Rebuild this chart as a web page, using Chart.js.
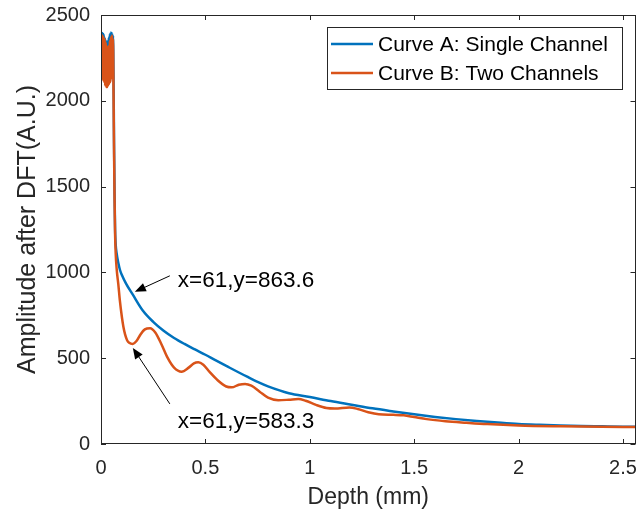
<!DOCTYPE html>
<html>
<head>
<meta charset="utf-8">
<script src="https://cdn.jsdelivr.net/npm/chart.js@4/dist/chart.umd.min.js"></script>
<style>
  html, body { margin: 0; padding: 0; background: #ffffff; }
  #wrap { width: 639px; height: 513px; }
</style>
</head>
<body>
<div id="wrap"><canvas id="c" width="639" height="513"></canvas></div>
<script>
// ---- data ----
const seriesNames = ["Curve A: Single Channel", "Curve B: Two Channels"];

const depthA = [0, 0.0025, 0.005, 0.0075, 0.01, 0.0125, 0.015, 0.0175, 0.02, 0.0225, 0.025, 0.0275, 0.03, 0.0325, 0.035, 0.0375, 0.04, 0.0425, 0.045, 0.0475, 0.05, 0.0525, 0.055, 0.0575, 0.06,
  0.0625, 0.065, 0.0675, 0.07, 0.075, 0.083, 0.091, 0.1, 0.12, 0.1525, 0.2, 0.25, 0.3, 0.35, 0.4, 0.45, 0.5, 0.55, 0.6, 0.7, 0.75, 0.8, 0.9, 1.0, 1.1, 1.2, 1.3, 1.4, 1.5, 1.6, 1.7, 1.8, 1.9, 2.0, 2.1, 2.2, 2.3, 2.4, 2.5, 2.56];
const ampA = [2170, 2390, 2200, 2395, 2220, 2390, 2210, 2370, 2200, 2355, 2190, 2340, 2180, 2350, 2200, 2370, 2220, 2390, 2240, 2400, 2250, 2395, 2260, 2380, 2150,
  1750, 1450, 1250, 1170, 1110, 1055, 1014, 985, 935, 870, 778, 712, 660, 618, 583, 551, 520, 487, 455, 392, 362, 336, 296, 274, 250, 229, 208, 190, 173, 158, 145, 134, 125, 117, 112, 108, 105, 103, 101, 100];

const depthB = [0, 0.0025, 0.005, 0.0075, 0.01, 0.0125, 0.015, 0.0175, 0.02, 0.0225, 0.025, 0.0275, 0.03, 0.0325, 0.035, 0.0375, 0.04, 0.0425, 0.045, 0.0475, 0.05, 0.0525, 0.055, 0.0575, 0.06,
  0.0625, 0.065, 0.0675, 0.07, 0.075, 0.083, 0.09, 0.1, 0.107, 0.115, 0.125, 0.135, 0.1525, 0.17, 0.19, 0.21, 0.235, 0.26, 0.29, 0.32, 0.35, 0.386, 0.42, 0.445, 0.466, 0.49, 0.52, 0.56, 0.6, 0.626, 0.66, 0.69, 0.72, 0.76, 0.8, 0.849, 0.9, 0.945, 0.98, 1.03, 1.08, 1.12, 1.19, 1.23, 1.28, 1.33, 1.4, 1.45, 1.5, 1.56, 1.65, 1.75, 1.85, 2.0, 2.2, 2.4, 2.56];
const ampB = [2150, 2370, 2140, 2380, 2120, 2370, 2110, 2360, 2090, 2340, 2080, 2320, 2080, 2300, 2090, 2320, 2100, 2350, 2110, 2370, 2130, 2380, 2150, 2360, 2050,
  1700, 1420, 1220, 1120, 1020, 930, 840, 740, 685, 640, 605, 590, 583.3, 600, 640, 668, 675, 650, 580, 500, 445, 421, 445, 470, 476, 462, 420, 370, 335, 330, 345, 350, 340, 305, 270, 255, 258, 262, 252, 228, 210, 207, 213, 204, 185, 173, 170, 167, 157, 145, 133, 124, 116, 108, 103, 100, 99];

const xTicks = [0, 0.5, 1, 1.5, 2, 2.5];
const yTicks = [0, 500, 1000, 1500, 2000, 2500];
const xRange = [0, 2.56];
const yRange = [0, 2500];

const dataTips = [
  { x: 0.1525, y: 863.6, label: "x=61,y=863.6" },
  { x: 0.1525, y: 583.3, label: "x=61,y=583.3" }
];

// ---- styles ----
const colA = "#0072BD";
const colB = "#D95319";
const axisCol = "#262626";
const FONT = "'Liberation Sans', Arial, Helvetica, sans-serif";

function toXY(xs, ys) { return xs.map((x, i) => ({ x: x, y: ys[i] })); }

function arrow(ctx, tx, ty, fx, fy) {
  const ang = Math.atan2(ty - fy, tx - fx);
  const hl = 11, hw = 4.5;
  ctx.beginPath();
  ctx.moveTo(fx, fy);
  ctx.lineTo(tx - Math.cos(ang) * hl * 0.8, ty - Math.sin(ang) * hl * 0.8);
  ctx.stroke();
  ctx.beginPath();
  ctx.moveTo(tx, ty);
  ctx.lineTo(tx - Math.cos(ang) * hl + Math.sin(ang) * hw, ty - Math.sin(ang) * hl - Math.cos(ang) * hw);
  ctx.lineTo(tx - Math.cos(ang) * hl - Math.sin(ang) * hw, ty - Math.sin(ang) * hl + Math.cos(ang) * hw);
  ctx.closePath();
  ctx.fill();
}

const decor = {
  id: "decor",
  afterDraw(chart) {
    const ctx = chart.ctx;
    const a = chart.chartArea;
    const xs = chart.scales.x, ys = chart.scales.y;
    ctx.save();
    // box
    ctx.strokeStyle = axisCol;
    ctx.lineWidth = 1;
    ctx.strokeRect(Math.round(a.left) + 0.5, Math.round(a.top) + 0.5, Math.round(a.right - a.left) - 1, Math.round(a.bottom - a.top) - 1);
    // inward ticks
    const tl = 5;
    ctx.beginPath();
    xTicks.forEach(v => {
      const px = Math.round(xs.getPixelForValue(v)) + 0.5;
      ctx.moveTo(px, a.bottom); ctx.lineTo(px, a.bottom - tl);
      ctx.moveTo(px, a.top); ctx.lineTo(px, a.top + tl);
    });
    yTicks.forEach(v => {
      const py = Math.round(ys.getPixelForValue(v)) + 0.5;
      ctx.moveTo(a.left, py); ctx.lineTo(a.left + tl, py);
      ctx.moveTo(a.right, py); ctx.lineTo(a.right - tl, py);
    });
    ctx.stroke();

    // legend
    const lx = 327.5, ly = 27.5, lw = 295, lh = 62;
    ctx.fillStyle = "#ffffff";
    ctx.fillRect(lx, ly, lw, lh);
    ctx.strokeStyle = "#262626";
    ctx.lineWidth = 1;
    ctx.strokeRect(lx, ly, lw, lh);
    const rows = [{ c: colA, t: seriesNames[0], y: 44 }, { c: colB, t: seriesNames[1], y: 73 }];
    ctx.font = "21px " + FONT;
    ctx.textBaseline = "middle";
    ctx.textAlign = "left";
    rows.forEach(r => {
      ctx.strokeStyle = r.c;
      ctx.lineWidth = 2.5;
      ctx.beginPath();
      ctx.moveTo(331, r.y); ctx.lineTo(373, r.y);
      ctx.stroke();
      ctx.fillStyle = "#000000";
      ctx.fillText(r.t, 378, r.y + 1);
    });

    // data tip annotations
    ctx.strokeStyle = "#000000";
    ctx.fillStyle = "#000000";
    ctx.lineWidth = 1;
    const p1x = xs.getPixelForValue(dataTips[0].x), p1y = ys.getPixelForValue(dataTips[0].y);
    const t1x = p1x + 2, t1y = p1y - 4;
    arrow(ctx, t1x, t1y, t1x + 35, t1y - 16);
    const p2x = xs.getPixelForValue(dataTips[1].x), p2y = ys.getPixelForValue(dataTips[1].y);
    const t2x = p2x, t2y = p2y + 4;
    arrow(ctx, t2x, t2y, t2x + 37, t2y + 56);
    ctx.font = "22.5px " + FONT;
    ctx.textBaseline = "middle";
    ctx.fillText(dataTips[0].label, t1x + 43, t1y - 11);
    ctx.fillText(dataTips[1].label, t2x + 45, t2y + 74);
    ctx.restore();
  }
};

new Chart(document.getElementById("c"), {
  type: "line",
  data: {
    datasets: [
      { label: seriesNames[0], data: toXY(depthA, ampA), borderColor: colA, borderWidth: 2.5, pointRadius: 0, fill: false, cubicInterpolationMode: "monotone", order: 1 },
      { label: seriesNames[1], data: toXY(depthB, ampB), borderColor: colB, borderWidth: 2.5, pointRadius: 0, fill: false, cubicInterpolationMode: "monotone", order: 0 }
    ]
  },
  options: {
    responsive: false,
    animation: false,
    layout: { padding: { left: 0, right: 3.5, top: 15, bottom: 0 } },
    plugins: { legend: { display: false }, tooltip: { enabled: false } },
    scales: {
      x: {
        type: "linear",
        min: xRange[0], max: xRange[1],
        afterBuildTicks: s => { s.ticks = xTicks.map(v => ({ value: v })); },
        afterFit: s => { s.height = 69; s.paddingLeft = 0; s.paddingRight = 0; },
        grid: { display: false, drawTicks: false },
        border: { display: false },
        ticks: { padding: 12, color: axisCol, font: { family: FONT, size: 20 }, callback: v => String(v), maxRotation: 0, autoSkip: false },
        title: { display: true, text: "Depth (mm)", color: axisCol, font: { family: FONT, size: 23 }, padding: { top: 0, bottom: 2 } }
      },
      y: {
        type: "linear",
        min: yRange[0], max: yRange[1],
        afterBuildTicks: s => { s.ticks = yTicks.map(v => ({ value: v })); },
        afterFit: s => { s.width = 101; s.paddingTop = 0; s.paddingBottom = 0; },
        grid: { display: false, drawTicks: false },
        border: { display: false },
        ticks: { padding: 11, color: axisCol, font: { family: FONT, size: 20 }, callback: v => String(v), autoSkip: false },
        title: { display: true, text: "Amplitude after DFT(A.U.)", color: axisCol, font: { family: FONT, size: 25 }, padding: { top: 13, bottom: 0 } }
      }
    }
  },
  plugins: [decor]
});
</script>
</body>
</html>
